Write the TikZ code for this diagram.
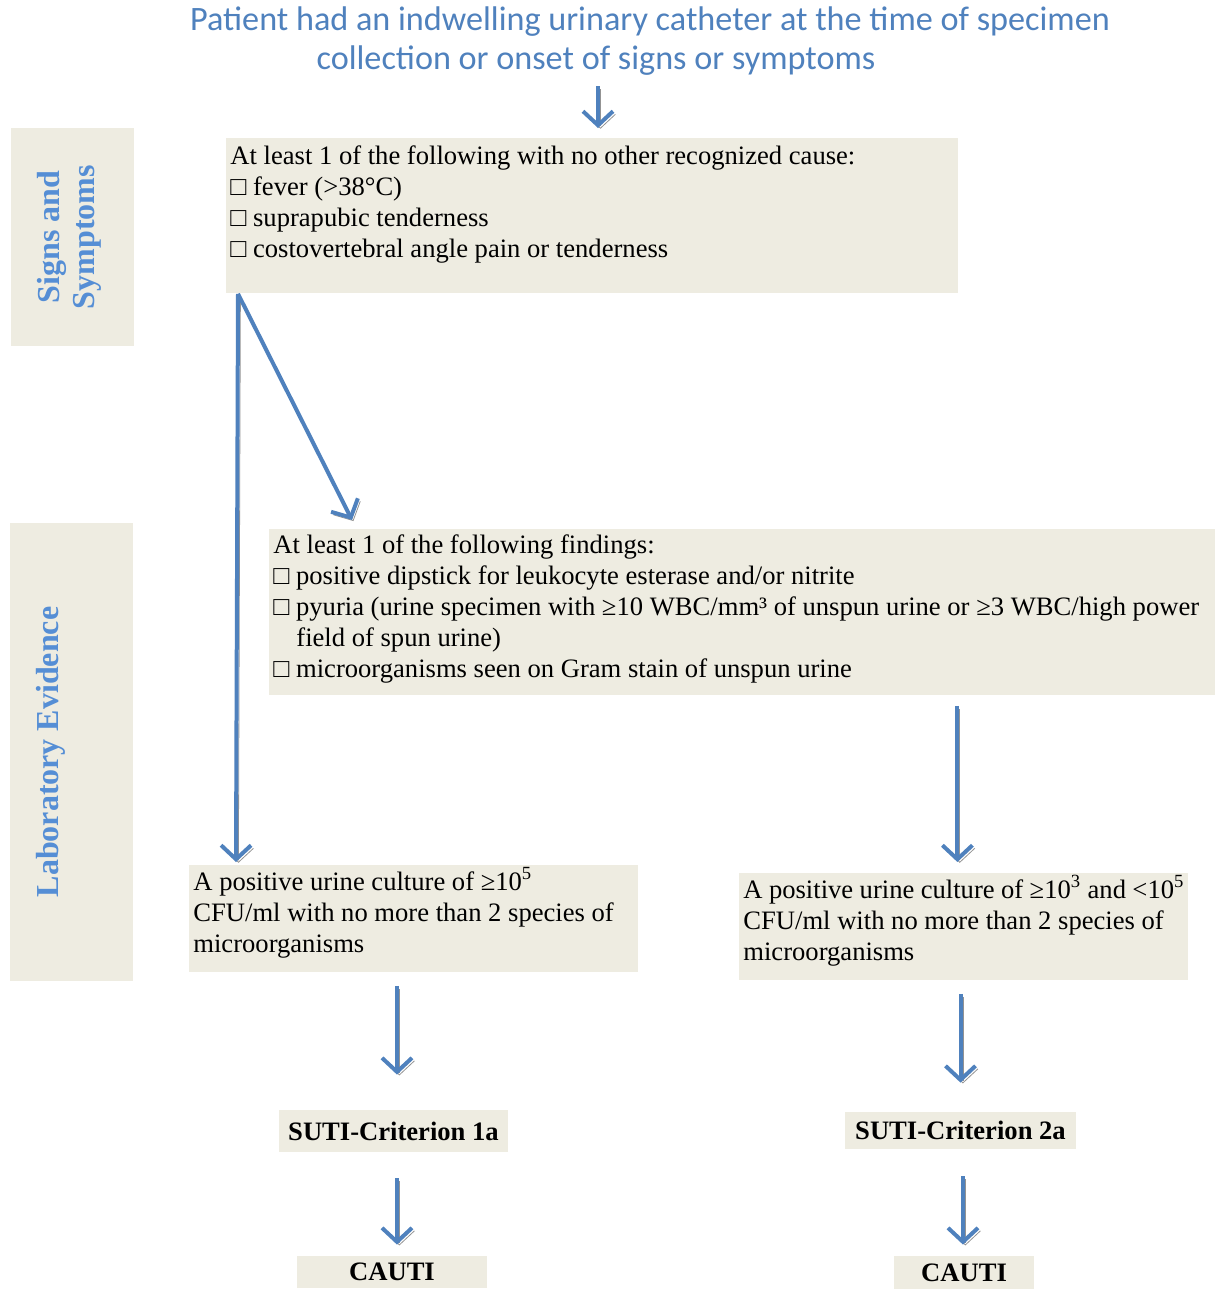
\documentclass[tikz,border=0pt]{standalone}
\usepackage{fontspec}
\setmainfont{Liberation Serif}
\newfontfamily\headfont{Carlito}
\usetikzlibrary{arrows.meta,positioning}
\definecolor{boxbg}{RGB}{238,236,225}
\definecolor{flowblue}{RGB}{79,129,189}
\definecolor{labelblue}{RGB}{85,142,213}
\tikzset{
  box/.style={fill=boxbg, anchor=north west, inner xsep=2pt, inner ysep=3pt, align=left, font=\fontsize{13.3}{15.5}\selectfont},
  tagbox/.style={fill=boxbg, inner sep=0pt, font=\fontsize{13.3}{15}\selectfont\bfseries},
  sidebox/.style={fill=boxbg, inner sep=0pt},
  sidetext/.style={rotate=90, text=labelblue, inner sep=0pt, align=center, font=\fontsize{16}{17.5}\selectfont\bfseries},
  headtext/.style={text=flowblue, inner sep=0pt, font=\headfont\fontsize{17.1}{19.5}\selectfont},
  flow/.style={flowblue, line width=2pt, -{Straight Barb[length=7pt,width=15pt]},
    preaction={draw=gray!85, transform canvas={xshift=1.2pt,yshift=-1.5pt}}},
}
\begin{document}
\begin{tikzpicture}[x=0.5pt,y=-0.5pt]
\useasboundingbox (0,0) rectangle (1217,1291);

\node[headtext] (title1) at (650,22) {Patient had an indwelling urinary catheter at the time of specimen};
\node[headtext] (title2) at (596,61) {collection or onset of signs or symptoms};

\node[sidebox, minimum width=61.5pt, minimum height=109pt] (signside) at (72.5,237) {};
\node[sidetext] (signlabel) at (69,237) {Signs and\\Symptoms};
\node[sidebox, minimum width=61.5pt, minimum height=229pt] (labside) at (71.5,752) {};
\node[sidetext] (lablabel) at (51,752) {Laboratory Evidence};

\node[box, inner ysep=3.5pt] (signs) at (226,138) {\parbox[t][70.5pt][t]{362pt}{%
At least 1 of the following with no other recognized cause:\\
□ fever (>38°C)\\
□ suprapubic tenderness\\
□ costovertebral angle pain or tenderness}};

\node[box, inner ysep=2.5pt] (lab) at (269,529) {\parbox[t][78pt][t]{469pt}{%
At least 1 of the following findings:\par
□ positive dipstick for leukocyte esterase and/or nitrite\par
\hangindent=11.5pt\hangafter=1 □ pyuria (urine specimen with ≥10 WBC/mm³ of unspun urine or ≥3 WBC/high power\\
field of spun urine)\par
□ microorganisms seen on Gram stain of unspun urine}};

\node[box, inner ysep=1pt] (cult1) at (189,865) {\parbox[t][51.5pt][t]{220.5pt}{%
A positive urine culture of ≥10\textsuperscript{5}\\
CFU/ml with no more than 2 species of\\
microorganisms}};
\node[box, inner ysep=1pt] (cult2) at (739,873) {\parbox[t][51.5pt][t]{220.5pt}{%
A positive urine culture of ≥10\textsuperscript{3} and <10\textsuperscript{5}\\
CFU/ml with no more than 2 species of\\
microorganisms}};

\node[tagbox, minimum width=114.5pt, minimum height=21pt] (crit1) at (393.5,1131) {SUTI-Criterion 1a};
\node[tagbox, minimum width=115.5pt, minimum height=18.5pt] (crit2) at (960.5,1130.5) {SUTI-Criterion 2a};
\node[tagbox, minimum width=95pt, minimum height=16pt] (cauti1) at (392,1272) {CAUTI};
\node[tagbox, minimum width=70pt, minimum height=16.5pt] (cauti2) at (964,1272.5) {CAUTI};

\draw[flow] ([xshift=1pt,yshift=-5pt]title2.south) -- ([xshift=1pt,yshift=5pt]title2.south |- signs.north);
\draw[flow] ([xshift=6pt]signs.south west) -- ([xshift=23.5pt,yshift=1.5pt]cult1.north west);
\draw[flow] ([xshift=6pt]signs.south west) -- ([xshift=41.5pt,yshift=4.5pt]lab.north west);
\draw[flow] ([xshift=-3.25pt,yshift=-5pt]cult2.north |- lab.south) -- ([xshift=-3.25pt,yshift=5.5pt]cult2.north);
\draw[flow] ([xshift=1.75pt,yshift=-6.5pt]crit1.north |- cult1.south) -- ([xshift=1.75pt,yshift=17.5pt]crit1.north);
\draw[flow] ([yshift=-6.5pt]crit2.north |- cult2.south) -- ([yshift=14.5pt]crit2.north);
\draw[flow] ([xshift=1.75pt,yshift=-13pt]crit1.south) -- ([xshift=1.75pt,yshift=5.5pt]crit1.south |- cauti1.north);
\draw[flow] ([xshift=1.25pt,yshift=-13.5pt]crit2.south) -- ([xshift=1.25pt,yshift=5.5pt]crit2.south |- cauti2.north);
\end{tikzpicture}
\end{document}
